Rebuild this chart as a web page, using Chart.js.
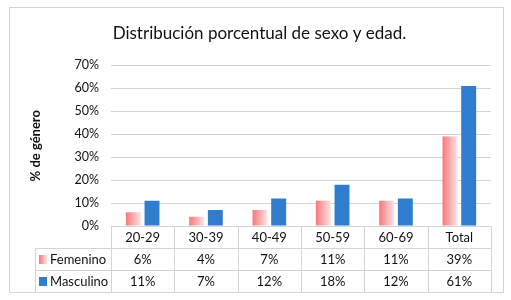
<!DOCTYPE html>
<html>
<head>
<meta charset="utf-8">
<script src="https://cdn.jsdelivr.net/npm/chart.js@4.4.0/dist/chart.umd.min.js"></script>
<style>
  html, body { margin: 0; padding: 0; background: #fff; }
  #wrap { width: 511px; height: 300px; }
</style>
</head>
<body>
<div id="wrap"><canvas id="chart1" width="511" height="300"></canvas></div>
<script>
// data
categories = ['20-29', '30-39', '40-49', '50-59', '60-69', 'Total']
femenino = [6, 4, 7, 11, 11, 39]
masculino = [11, 7, 12, 18, 12, 61]
seriesNames = ['Femenino', 'Masculino']
yTicks = [0, 10, 20, 30, 40, 50, 60, 70]

const FONT = 'Lato, "Open Sans", sans-serif'
const lineColor = '#d0d6d3'
const catPct = 0.59
const barPct = 0.8

// pink gradient across each female bar, like the excel fill
function pinkFill(ctx) {
	const chart = ctx.chart
	const xs = chart.scales.x
	if (!xs || !chart.chartArea) return '#f8898b'
	const catW = xs.width / categories.length
	const slot = catW * catPct / 2
	const center = xs.getPixelForValue(ctx.dataIndex) - slot / 2
	const left = center - slot * barPct / 2
	const right = center + slot * barPct / 2
	const g = chart.ctx.createLinearGradient(left, 0, right, 0)
	g.addColorStop(0, '#f7787b')
	g.addColorStop(1, '#fde3e3')
	return g
}

// frame + data table under the plot
const tablePlugin = {
	id: 'tablePlugin',
	beforeDraw(chart) {
		const c = chart.ctx
		c.save()
		c.fillStyle = '#fff'
		c.fillRect(0, 0, chart.width, chart.height)
		c.strokeStyle = '#d4d4d4'
		c.lineWidth = 1
		c.strokeRect(9.5, 7.5, 494, 285)
		c.restore()
	},
	afterDraw(chart) {
		const c = chart.ctx
		const area = chart.chartArea
		const xs = chart.scales.x
		const catW = xs.width / categories.length
		const rowH = 22
		const top = area.bottom
		const legendLeft = 35
		c.save()
		c.strokeStyle = lineColor
		c.lineWidth = 1
		// horizontal lines
		for (let r = 1; r <= 3; r++) {
			const y = Math.round(top + r * rowH) + 0.5
			c.beginPath()
			c.moveTo(legendLeft, y)
			c.lineTo(area.right, y)
			c.stroke()
		}
		// vertical lines
		for (let i = 0; i <= categories.length; i++) {
			const x = Math.round(area.left + i * catW) + 0.5
			c.beginPath()
			c.moveTo(x, top)
			c.lineTo(x, top + 3 * rowH)
			c.stroke()
		}
		c.beginPath()
		c.moveTo(legendLeft + 0.5, top + rowH)
		c.lineTo(legendLeft + 0.5, top + 3 * rowH)
		c.stroke()

		c.fillStyle = '#111'
		c.font = '13px ' + FONT
		c.textAlign = 'center'
		c.textBaseline = 'middle'
		const rows = [femenino, masculino]
		categories.forEach((cat, i) => {
			const cx = area.left + (i + 0.5) * catW
			c.fillText(cat, cx, top + rowH / 2 + 1)
			rows.forEach((vals, r) => {
				c.fillText(vals[i] + '%', cx, top + (r + 1.5) * rowH + 1)
			})
		})
		// legend keys
		c.textAlign = 'left'
		seriesNames.forEach((name, r) => {
			const cy = top + (r + 1.5) * rowH
			if (r == 0) {
				const g = c.createLinearGradient(39, 0, 47, 0)
				g.addColorStop(0, '#f7787b')
				g.addColorStop(1, '#fde3e3')
				c.fillStyle = g
			} else {
				c.fillStyle = '#2f7dcc'
			}
			c.fillRect(39, cy - 4, 8, 9)
			c.fillStyle = '#111'
			c.fillText(name, 50, cy + 1)
		})
		c.restore()
	}
}

const ctx1 = document.getElementById('chart1').getContext('2d')
const myChart = new Chart(ctx1, {
	type: 'bar',
	data: {
		labels: categories,
		datasets: [{
			label: seriesNames[0],
			data: femenino,
			backgroundColor: pinkFill,
			categoryPercentage: catPct,
			barPercentage: barPct
		}, {
			label: seriesNames[1],
			data: masculino,
			backgroundColor: '#2f7dcc',
			categoryPercentage: catPct,
			barPercentage: barPct
		}]
	},
	plugins: [tablePlugin],
	options: {
		responsive: false,
		animation: false,
		layout: { padding: { left: 28, right: 20, top: 0, bottom: 74 } },
		plugins: {
			legend: { display: false },
			tooltip: { enabled: false },
			title: {
				display: true,
				text: 'Distribución porcentual de sexo y edad.',
				color: '#111',
				font: { family: FONT, size: 17, weight: 'normal' },
				padding: { top: 23, bottom: 22 }
			}
		},
		scales: {
			x: {
				display: false
			},
			y: {
				min: 0,
				max: 70,
				afterBuildTicks(scale) {
					scale.ticks = yTicks.map(v => ({ value: v }))
				},
				ticks: {
					callback: v => v + '%',
					color: '#111',
					padding: 12,
					font: { family: FONT, size: 12.5 }
				},
				grid: { color: lineColor, drawTicks: false },
				border: { display: false },
				title: {
					display: true,
					text: '% de género',
					color: '#111',
					font: { family: FONT, size: 13, weight: 'bold' },
					padding: { top: 0, bottom: 6 }
				},
				afterFit(scale) { scale.width = 111 - 28 }
			}
		}
	}
})
</script>
</body>
</html>
